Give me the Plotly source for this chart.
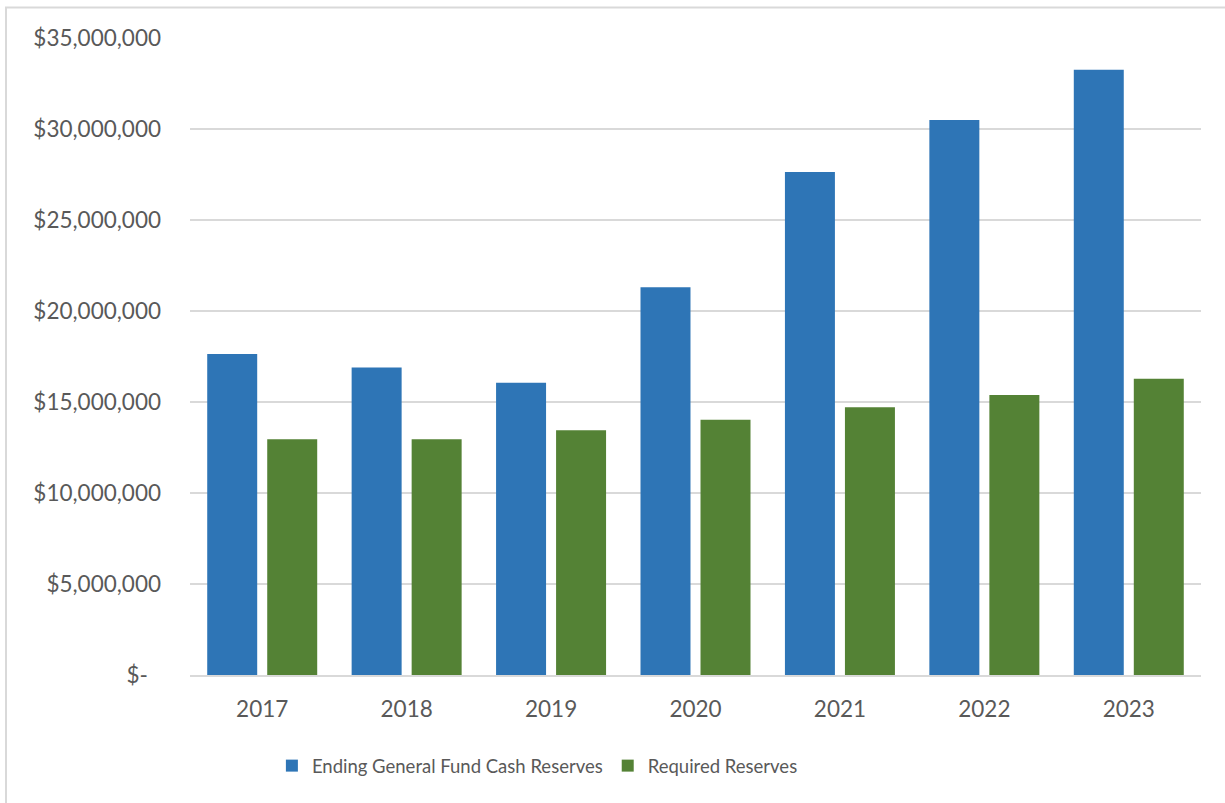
import plotly.graph_objects as go

# Fiscal years shown on the category axis
years = ["2017", "2018", "2019", "2020", "2021", "2022", "2023"]

# Year-end balances (USD)
ending_reserves = [17640000, 16890000, 16060000, 21300000, 27640000, 30490000, 33250000]
required_reserves = [12960000, 12960000, 13450000, 14030000, 14710000, 15390000, 16280000]

# Y-axis ticks in accounting style
y_ticks = [0, 5000000, 10000000, 15000000, 20000000, 25000000, 30000000, 35000000]
y_tick_text = ["$-\u2007", "$5,000,000", "$10,000,000", "$15,000,000", "$20,000,000",
               "$25,000,000", "$30,000,000", "$35,000,000"]

BLUE = "#2E75B6"
GREEN = "#548235"
TEXT = "#595959"
GRID = "#D9D9D9"
FONT = "Lato, Carlito, Calibri, sans-serif"

fig = go.Figure()
fig.add_trace(go.Bar(x=years, y=ending_reserves, name="Ending General Fund Cash Reserves",
                     marker=dict(color=BLUE, line=dict(width=0))))
fig.add_trace(go.Bar(x=years, y=required_reserves, name="Required Reserves",
                     marker=dict(color=GREEN, line=dict(width=0))))

fig.update_layout(
    width=1225, height=803,
    margin=dict(l=190, r=24, t=37.5, b=127.5),
    paper_bgcolor="white", plot_bgcolor="white",
    barmode="group", bargap=0.169, bargroupgap=0.167,
    font=dict(family=FONT, color=TEXT, size=22),
    showlegend=True,
    legend=dict(orientation="h", x=0.081, xanchor="left", y=-0.143, yanchor="middle",
                font=dict(size=18.5, color=TEXT), itemwidth=30, tracegroupgap=0,
                bgcolor="rgba(0,0,0,0)"),
    xaxis=dict(showgrid=False, showline=True, linecolor=GRID, linewidth=1.5,
               ticks="", ticklabelstandoff=13, tickfont=dict(size=22.5, color=TEXT)),
    yaxis=dict(range=[0, 35000000], tickvals=y_ticks, ticktext=y_tick_text,
               showgrid=True, gridcolor=GRID, gridwidth=1.5, zeroline=False,
               showline=False, ticks="", ticklabelstandoff=28,
               tickfont=dict(size=22.5, color=TEXT)),
)

# Chart-area frame (its right and bottom edges run past the page)
fig.add_shape(type="rect", xref="paper", yref="paper",
              x0=-0.182, x1=1.2, y0=-0.4, y1=1.048,
              line=dict(color=GRID, width=2), fillcolor="rgba(0,0,0,0)", layer="below")

fig.write_html("out.html")
